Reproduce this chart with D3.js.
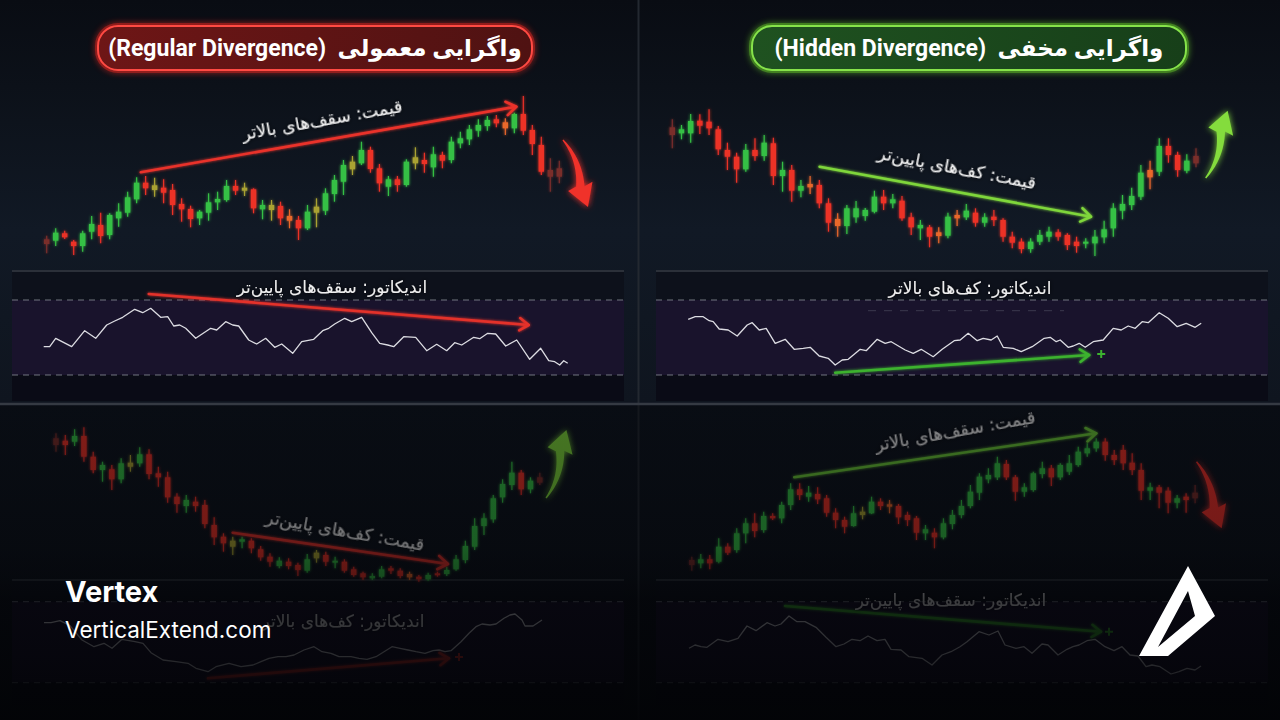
<!DOCTYPE html>
<html><head><meta charset="utf-8">
<script src="https://cdn.jsdelivr.net/npm/d3@7"></script>
<style>
html,body{margin:0;padding:0;background:#090c12;}
svg{display:block;}
</style></head>
<body><svg id="c" width="1280" height="720"></svg>
<script>
// ===================== DATA =====================
// Candle kinds: u = bullish, d = bearish, n = doji/neutral, w = weak bearish, f = faded edge candle
// ---- Top-left: Regular (bearish) divergence ----
const tlKind = ("fudduuduuu"+"udndddduuu"+"udndundwdu"+"nuuunuddud"+"unduduuuuu"+"dwudddff").split("");
const tlOpen = [20.7,19.3,26.7,18.3,14,28.3,35,25,41.7,47.3, 60.7,77.3,70,72.3,70,56,51,41.7,47.3,57.7, 60,74,69.3,70.7,50.7,50,54,44,40,31.7, 47.3,49.3,66,78.3,90.7,96.7,110,91.7,73.3,80.7, 75,96.7,100,92.7,105,100,116.7,120.7,129.3,134, 140.7,137.7,131.7,146,130,115,90,91.7];
const tlClose = [16,27.3,22.7,14,26.7,36,24,45,48.3,62.7, 77.3,71.7,74.7,67.3,55,50.7,41,48.3,57.7,61, 74,69.3,72.3,51.7,55,55,41.7,39.3,31.7,48.3, 53.3,66.7,80,95,98.3,110,91,76.7,80.7,75, 98.3,102.7,96,105.7,99.3,118.3,121.7,130.7,135,140, 136.7,131.7,146,129.3,116,88.3,83.3,83.3];
const tlHigh = [24.3,31.7,29.3,20,29.3,44,47.3,46.7,56.7,68.3, 82.7,84,82.3,80.7,76,61.7,54.3,50,66.7,68.3, 80,80,77.3,71.7,60,60,58.3,50.7,44,55, 61.7,71.7,85,100,104,118.3,113.3,96,84,84, 100.7,112.7,107.3,113.3,108.3,123.3,128.3,135,140.7,144, 145,141.7,147.3,164,135,123.3,101.7,99.3];
const tlLow = [6.7,14,21,5,8.3,20.7,16.7,20.7,33.3,43.3, 56.7,65,63.3,56.7,45,38.3,32.7,35,39.3,50, 58.3,65,64,46.7,40.7,39.3,35,31.7,20,30, 32.7,45,58.3,65,85,95,87.3,68.3,64,68.3, 73.3,90.7,87.3,83.3,91.7,96.7,111.7,115,123.3,129.3, 132.7,125,126.7,125,105,85,68.3,76.7];
const tlIndT = [0,6,12,28,41,52,63,71,79,91,99,107,117,124,130,136,142,152,167,173,182,189,195,205,213,222,231,238,249,258,270,279,285,291,301,308,318,328,336,344,350,360,372,383,393,403,411,418,430,436,444,452,462,473,486,497,505,511,516,520,524];
const tlIndV = [28.3,28.3,36.7,28.3,44.3,36.7,50,54,57.7,65.7, 62.3,66.7,57.7,58.3,49,50,46.7,36.7,46.7,45, 53.3,50,49,35,31,36.7,27.7,31,21.7,33.3, 35.7,44.3,46.7,51,56.7,53.3,57.7,42.3,31.7,30, 28.3,38.3,37.7,24.3,30.7,24.3,32.3,30,37.7,36.3, 41.7,41,29,35,15.7,26.7,14.3,13.3,10,14.3, 11.7];
const tlPriceArrow = [[10.46,87.7],[52.22,153.3]];   // [candle index, price]
const tlTrendArrow = [[57.41,120],[60.19,53]];
const tlIndArrow = [[105,81],[485,50]];               // [time, indicator]

// ---- Top-right: Hidden (bullish) divergence ----
const trKind = ("fuudddddud"+"ududuwddwu"+"uuududdudw"+"uwududdddu"+"uuddduuuuu"+"uuwudduf").split("");
const trOpen = [132.7,126.7,126.7,139.3,138.3,130.7,110,103.3,90.7,110, 104,116.7,84,90,69.3,76,75,56.7,41,34, 42.7,44,48.3,63.3,56.7,59.3,42.7,31.7,32.7,27.7, 24.3,45,42.7,47.3,37.3,43.3,40,23.3,18.3,11, 18.3,23.3,27.7,25,18.3,16.7,16.7,22.7,31.7,49.3, 55,63.3,90,88.3,114,105,89.3,104];
const trClose = [125,130.7,139,134.3,131.7,110.7,103.3,90.7,110,104, 117.3,84,90,69.3,74,72.7,56.7,37.3,34,51.7, 51.7,50,63.3,56.7,60.7,41.7,32.7,35,23.3,24, 43.3,41.7,49.3,37.3,42.7,40,23.3,17.3,11,18.3, 25,28.3,23.3,15,14,18.3,23.3,30.7,51.7,56, 64,87.3,82.7,114,105,90,99.3,96.7];
const trHigh = [140.7,135,146,145.7,150.7,134,117.3,107.3,116,121.7, 125,122.3,98.3,95,80,84,80,61.7,46.7,55, 59,52,69.3,70,66,64,47.3,40,35,32.7, 47.3,50,56,51.7,46.7,50,41.7,28.3,21.7,21.7, 30,33.3,30.7,26.7,23.3,21.7,30,39.3,56.7,65, 72.3,95,99.3,121.7,121.7,108.3,105.7,111.7];
const trLow = [111.7,120.7,117.3,126,125,105,90,77.3,88.3,99.3, 99.3,75,68.3,58.3,62.7,66,51.7,28.3,23.3,26, 37.3,39.3,46.7,50,51.7,39.3,25,20,12.7,16.7, 21.7,34,40,33.3,33.3,34,18.3,11.7,6.7,7.3, 15,18.3,19.3,10,7.3,11.7,4,16.7,23.3,40.7, 50,60,70.7,84,97.3,83.3,86.7,92.7];
const trIndT = [0,7,15,21,25,31,40,49,59,64,71,78,87,97,106,115,122,131,140,147,154,160,172,178,189,197,203,217,225,233,245,254,266,272,280,289,295,303,309,315,325,333,344,356,362,368,372,380,385,391,397,405,415,425,433,440,447,454,460,471,480,489,498,507,513];
const trIndV = [55.7,58.3,58.3,54.3,53.3,46,45,39,50,52.3, 45,46.7,31.7,35.7,25.7,26.7,27.7,19,16.7,10, 15,15.7,25.7,24.3,35.7,31.7,33.3,25,21.7,25.7, 18.3,25.7,34.3,35,41.7,34.3,36.7,35,39,27.7, 26.7,23.3,28.3,36.7,37.7,33.3,35,27.7,29,31.7, 27.7,33.3,35,46.7,45,49,46.7,53.3,52.3,62.3, 56.7,48.3,51.7,47.7,51.7];
const trPriceArrow = [[16.03,93.3],[45.57,43.3]];
const trTrendArrow = [[58.05,82],[60.44,149.3]];
const trIndArrow = [[147,2.3],[401,20]];
const trIndMark = [413,21];

// ---- Bottom-left: Regular (bullish) divergence ----
const blKind = ("fduddudunu"+"dddduddddn"+"uddduddund"+"uddduuddwd"+"uduuuuuuuu"+"duf").split("");
const blOpen = [161.7,159.3,158.3,164,143.3,130,130.7,120.7,133.3,136.7, 145.7,126.7,122.7,103.3,94,98.3,95,75,63.3,53.3, 58.3,59.3,50.7,43.3,34,38.3,35,29.3,41.7,45, 37.3,38.3,30.7,26.7,21.7,23.3,31.7,29.3,26,23.3, 20.7,26.7,26,30.7,40,53.3,74,80.7,102.7,115, 127.3,110.7,122.7];
const blClose = [155,155,164,143.3,130,135,120.7,136.7,137.3,145.7, 126,122.7,102.7,96,100,94,76,62.7,56.7,59.3, 60.7,51.7,42.7,38.3,39.3,34,30,40.7,47.3,38.3, 39.3,29.3,25,22.7,24,30.7,29.3,24,22.7,20.7, 25,25,30,40.7,54,74,81.7,101.7,116,127.3, 110.7,119.3,117.3];
const blHigh = [166.7,165,170.7,172.7,148.3,138.3,135,141.7,145,152.7, 150.7,133.3,128.3,106.7,105,103.3,100,82.7,66.7,63.3, 63.3,61.7,54,46.7,42.7,41.7,37.3,46,50,48.3, 43.3,40.7,33.3,28.3,26.7,34,34,31.7,28.3,25, 27.3,28.3,33.3,45,59.3,81.7,86.7,105,120.7,138.3, 130,122.7,127.3];
const blLow = [148.3,145,154,138.3,126.7,118.3,110,116.7,128.3,133.3, 120.7,113.3,97.3,87.3,87.3,88.3,71.7,55,48.3,45, 51.7,46.7,39.3,33.3,31.7,30.7,24,27.3,37.3,34, 31.7,27.3,23.3,20,20,21.7,26,21.7,20,18.3, 19.3,23.3,24,29.3,36.7,50,65,77.3,97.3,110, 105,106.7,115];
const blIndT = [0,7,16,26,38,50,60,68,78,91,99,107,119,132,144,152,164,172,185,197,209,217,225,234,242,250,260,270,278,287,295,307,315,323,332,340,348,356,364,372,381,389,395,401,407,417,425,432,438,446,452,460,466,471,478,481,489,498];
const blIndV = [60,60,62,57,42.7,36,39.4,34.4,43.4,41, 39.4,30,22.7,21,19.4,14.4,11,16,19.4,16, 17.7,21,24.4,26,26,27.7,32.7,36,31,29.4, 26,26,24.4,23.4,26,31,36,34.4,32.7,31, 29.4,32,32.7,31,32,41,49.4,56,58.7,57.7, 58.7,64.4,67.7,68.7,62.7,56.7,56.7,62.7];
const blPriceArrow = [[18.99,67.3],[42.13,36]];
const blTrendArrow = [[52.67,102],[54.86,170]];
const blIndArrow = [[164,4.4],[405,24.4]];
const blIndMark = [415,25.7];

// ---- Bottom-right: Hidden (bearish) divergence ----
const brKind = ("fududuudud"+"uududdddun"+"udwddduduu"+"uuuuudduuu"+"duuuuudddd"+"duddudf").split("");
const brOpen = [40,36.7,40.7,38.3,53.3,50,66.7,76.7,70,84, 81.7,95,110.7,103.3,106,101.7,87.3,80,74,85, 86.7,98.3,95.7,94,85,81.7,66.7,67.3,62.7,76, 85,94,107.3,120.7,122.7,136,122.7,108.3,110,126, 131.7,122.7,128.3,135,146.7,151.7,158.3,145,150,137.3, 130,109.3,112.7,109.3,97.3,103.3,107.3];
const brClose = [35,40.7,36.7,53.3,47.3,66.7,76.7,69,84,81.7, 95,110.7,105,107.3,100.7,87.3,80,73.3,86.7,88.3, 98.3,94,93.3,82.7,80,67.3,70.7,62.7,76.7,85, 94,108.3,123.3,125,136.7,122.7,108.3,112.7,126.7,131.7, 122.7,135,136.7,148.3,151.7,158.3,145,140,136.7,130, 109.3,112.7,107.3,97.3,101.7,100,101.7];
const brHigh = [43.3,46,45,61.7,56.7,71.7,81.7,86.7,88.3,86.7, 98.3,116.7,116.7,114,112.7,105,91.7,83.3,94,93.3, 103.3,101.7,100,96,88.3,84,75,71.7,81.7,90, 100,115,126.7,131.7,143.3,140,125,116.7,128.3,138.3, 135,136.7,145,153.3,156.7,161.7,161.7,150,155,146.7, 136.7,117.3,115,112.7,105,106.7,115];
const brLow = [29.3,31.7,30.7,36.7,45,47.3,56.7,62.7,67.3,80, 76.7,90,100,98.3,96,83.3,71.7,66.7,73.3,80.7, 86,90,86.7,76,74,60,60,51.7,60.7,70.7, 81.7,91.7,100,116.7,120,120,99.3,103.3,108.3,121.7, 114,120,125,133.3,143.3,148.3,139.3,135,130,125, 100,100,91.7,86.7,91.7,87.3,96.7];
const brIndT = [0,6,12,18,29,39,49,58,67,78,86,92,100,108,116,127,137,147,155,163,171,179,188,196,202,212,220,233,243,253,262,271,278,290,300,309,316,327,335,343,353,359,369,378,384,390,398,406,416,425,433,441,449,457,463,471,482,490,498,506,512];
const brIndV = [34.4,37.7,36,35.4,43.4,41,44.4,56.7,52,60, 56.7,58.7,66.7,61,61,55.4,45.4,36,38.7,43.4, 42,46.7,42,43.4,33.4,32.7,26,24.4,17.7,27.7, 31,36,41,51,47.7,51.7,37.7,34.4,36,29.4, 38.7,37.7,27.7,33.4,36,37.7,42,43.4,36,32, 36,27.7,26.7,16,17.7,16,8.7,11,14.4,12.7, 16.7];
const brPriceArrow = [[11.4,122.7],[45.0,166.7]];
const brTrendArrow = [[56.16,138.3],[58.95,71.7]];
const brIndArrow = [[96,76.7],[412,51]];
const brIndMark = [420,51];

// ---- Texts ----
const titles = ["واگرایی معمولی  (Regular Divergence)", "واگرایی مخفی  (Hidden Divergence)"];
const priceLabels = ["قیمت: سقف\u200cهای بالاتر", "قیمت: کف\u200cهای پایین\u200cتر", "قیمت: کف\u200cهای پایین\u200cتر", "قیمت: سقف\u200cهای بالاتر"];
const indLabels = ["اندیکاتور: سقف\u200cهای پایین\u200cتر", "اندیکاتور: کف\u200cهای بالاتر", "اندیکاتور: کف\u200cهای بالاتر", "اندیکاتور: سقف\u200cهای پایین\u200cتر"];
const brandName = "Vertex";
const brandSite = "VerticalExtend.com";

// sanity check
[[tlKind,tlOpen,tlClose,tlHigh,tlLow],[trKind,trOpen,trClose,trHigh,trLow],[blKind,blOpen,blClose,blHigh,blLow],[brKind,brOpen,brClose,brHigh,brLow]].forEach((a,j)=>{
  const n=a[0].length; a.forEach(x=>{ if(x.length!==n) throw new Error("candle length mismatch panel "+j+": "+x.length+" vs "+n); });
});
[[tlIndT,tlIndV],[trIndT,trIndV],[blIndT,blIndV],[brIndT,brIndV]].forEach((a,j)=>{ if(a[0].length!==a[1].length) throw new Error("ind mismatch "+j+": "+a[0].length+" vs "+a[1].length); });

// ===================== DRAW =====================
const W=1280, H=720;
const svg = d3.select("#c");
const defs = svg.append("defs");

const bg = defs.append("linearGradient").attr("id","bg").attr("x1",0).attr("y1",0).attr("x2",0).attr("y2",1);
[[0,"#090c13"],[0.12,"#0c1119"],[0.32,"#111925"],[0.56,"#0f151f"],[1,"#0b0f16"]].forEach(s=>bg.append("stop").attr("offset",s[0]).attr("stop-color",s[1]));

const dim = defs.append("linearGradient").attr("id","dim").attr("x1",0).attr("y1",0).attr("x2",0).attr("y2",1);
[[0,0.45],[0.45,0.52],[0.55,0.62],[0.62,0.75],[0.8,0.82],[1,0.94]].forEach(s=>dim.append("stop").attr("offset",s[0]).attr("stop-color","#020306").attr("stop-opacity",s[1]));

function glowFilter(id, sd){
  const f = defs.append("filter").attr("id",id).attr("x","-50%").attr("y","-50%").attr("width","200%").attr("height","200%");
  f.append("feGaussianBlur").attr("in","SourceGraphic").attr("stdDeviation",sd).attr("result","b");
  const m=f.append("feMerge"); m.append("feMergeNode").attr("in","b"); m.append("feMergeNode").attr("in","SourceGraphic");
}
glowFilter("glow",3); glowFilter("glowS",1.6);
const ts = defs.append("filter").attr("id","tshadow").attr("x","-20%").attr("y","-50%").attr("width","140%").attr("height","200%");
ts.append("feDropShadow").attr("dx",0).attr("dy",0).attr("stdDeviation",2.2).attr("flood-color","#000").attr("flood-opacity",0.9);

const gTL = defs.append("linearGradient").attr("id","boxR").attr("x1",0).attr("x2",1);
gTL.append("stop").attr("offset",0).attr("stop-color","#6e1616"); gTL.append("stop").attr("offset",1).attr("stop-color","#4f1212");
const gTR = defs.append("linearGradient").attr("id","boxG").attr("x1",0).attr("x2",1);
gTR.append("stop").attr("offset",0).attr("stop-color","#1f5220"); gTR.append("stop").attr("offset",1).attr("stop-color","#173f19");

svg.append("rect").attr("width",W).attr("height",H).attr("fill","url(#bg)");

const kindColor = d3.scaleOrdinal().domain(["u","d","n","w","f"]).range(["#36c044","#ec3128","#a9a233","#e9672c","#7a2d2b"]);

const panels = [
  {K:tlKind,O:tlOpen,C:tlClose,Hh:tlHigh,L:tlLow, xr:[46.7,559.3], yr:[260,90], pd:[0,170],
   indT:tlIndT, indV:tlIndV, ix0:43.7, box:[12,624], top:271, d1:300, d2:375, bot:401, vd:[0,75],
   pa:tlPriceArrow, ta:tlTrendArrow, ia:tlIndArrow, mark:null, paCol:"#ea332b", taCol:"#f0302a", iaCol:"#e3302a", bend:-9,
   pl:priceLabels[0], plPos:[322,120], plRot:-10, il:indLabels[0], ilPos:[332,287]},
  {K:trKind,O:trOpen,C:trClose,Hh:trHigh,L:trLow, xr:[672.3,1196], yr:[260,90], pd:[0,170],
   indT:trIndT, indV:trIndV, ix0:688.2, box:[656,1268], top:271, d1:300, d2:375, bot:401, vd:[0,75],
   pa:trPriceArrow, ta:trTrendArrow, ia:trIndArrow, mark:trIndMark, paCol:"#7fd63b", taCol:"#84dc3c", iaCol:"#3cb22f", bend:9,
   pl:priceLabels[1], plPos:[957,168], plRot:11, il:indLabels[1], ilPos:[970,288]},
  {K:blKind,O:blOpen,C:blClose,Hh:blHigh,L:blLow, xr:[56,539.8], yr:[600,400], pd:[0,200],
   indT:blIndT, indV:blIndV, ix0:44, box:[12,624], top:580, d1:601.7, d2:682.7, bot:705, vd:[0,81],
   pa:blPriceArrow, ta:blTrendArrow, ia:blIndArrow, mark:blIndMark, paCol:"#e2322b", taCol:"#7fd63b", iaCol:"#d8302a", bend:9,
   pl:priceLabels[2], plPos:[345,531], plRot:10, il:indLabels[2], ilPos:[343,621]},
  {K:brKind,O:brOpen,C:brClose,Hh:brHigh,L:brLow, xr:[691.8,1195.1], yr:[600,400], pd:[0,200],
   indT:brIndT, indV:brIndV, ix0:689, box:[656,1268], top:580, d1:601.7, d2:682.7, bot:705, vd:[0,81],
   pa:brPriceArrow, ta:brTrendArrow, ia:brIndArrow, mark:brIndMark, paCol:"#6cc838", taCol:"#f0302a", iaCol:"#3cb22f", bend:-8,
   pl:priceLabels[3], plPos:[955,431], plRot:-10, il:indLabels[3], ilPos:[951,600]}
];

function openArrow(g, a, b, color, w, s){
  g.append("line").attr("x1",a[0]).attr("y1",a[1]).attr("x2",b[0]).attr("y2",b[1])
    .attr("stroke",color).attr("stroke-width",w).attr("stroke-linecap","round");
  const ang=Math.atan2(b[1]-a[1], b[0]-a[0]), sp=0.6;
  const p1=[b[0]-s*Math.cos(ang-sp), b[1]-s*Math.sin(ang-sp)];
  const p2=[b[0]-s*Math.cos(ang+sp), b[1]-s*Math.sin(ang+sp)];
  g.append("path").attr("d",`M${p1[0]},${p1[1]}L${b[0]},${b[1]}L${p2[0]},${p2[1]}`)
    .attr("fill","none").attr("stroke",color).attr("stroke-width",w).attr("stroke-linecap","round").attr("stroke-linejoin","round");
}

function curvedArrow(g, p0, p1, color, bend){
  const dx=p1[0]-p0[0], dy=p1[1]-p0[1], Ln=Math.hypot(dx,dy);
  const ux=dx/Ln, uy=dy/Ln, nx=-uy, ny=ux;
  const hl=22, hw=26;
  const pb=[p1[0]-ux*hl, p1[1]-uy*hl];
  const c=[(p0[0]+pb[0])/2+nx*bend, (p0[1]+pb[1])/2+ny*bend];
  const bez=t=>[(1-t)*(1-t)*p0[0]+2*(1-t)*t*c[0]+t*t*pb[0], (1-t)*(1-t)*p0[1]+2*(1-t)*t*c[1]+t*t*pb[1]];
  const der=t=>[2*(1-t)*(c[0]-p0[0])+2*t*(pb[0]-c[0]), 2*(1-t)*(c[1]-p0[1])+2*t*(pb[1]-c[1])];
  const left=[], right=[];
  for(let i=0;i<=24;i++){
    const t=i/24, P=bez(t), D=der(t), dl=Math.hypot(D[0],D[1]);
    const qx=-D[1]/dl, qy=D[0]/dl, w=(1.4+7*t)/2;
    left.push([P[0]+qx*w,P[1]+qy*w]); right.push([P[0]-qx*w,P[1]-qy*w]);
  }
  const h1=[pb[0]+nx*hw/2, pb[1]+ny*hw/2], h2=[pb[0]-nx*hw/2, pb[1]-ny*hw/2];
  const pts=left.concat([h1,p1,h2]).concat(right.reverse());
  g.append("path").attr("d","M"+pts.map(p=>p[0].toFixed(2)+","+p[1].toFixed(2)).join("L")+"Z")
    .attr("fill",color).attr("filter","url(#glow)");
}

function persian(g, txt, pos, rot, size, color, weight){
  g.append("text").attr("transform",`translate(${pos[0]},${pos[1]}) rotate(${rot})`)
    .attr("text-anchor","middle").attr("dy","0.35em").attr("direction","rtl")
    .style("direction","rtl").style("unicode-bidi","embed")
    .attr("font-family","'DejaVu Sans', sans-serif").attr("font-size",size).attr("font-weight",weight||"normal")
    .attr("fill",color).attr("filter","url(#tshadow)").text(txt);
}

function drawPanel(p){
  const g = svg.append("g");
  // indicator panel background
  g.append("rect").attr("x",p.box[0]).attr("y",p.top).attr("width",p.box[1]-p.box[0]).attr("height",p.d1-p.top).attr("fill","#0d111b");
  g.append("rect").attr("x",p.box[0]).attr("y",p.d1).attr("width",p.box[1]-p.box[0]).attr("height",p.d2-p.d1).attr("fill","#19132c");
  g.append("rect").attr("x",p.box[0]).attr("y",p.d2).attr("width",p.box[1]-p.box[0]).attr("height",p.bot-p.d2).attr("fill","#0a0b16");
  g.append("line").attr("x1",p.box[0]).attr("x2",p.box[1]).attr("y1",p.top).attr("y2",p.top).attr("stroke","#2b3039").attr("stroke-width",2);
  [p.d1,p.d2].forEach(yv=>g.append("line").attr("x1",p.box[0]).attr("x2",p.box[1]).attr("y1",yv).attr("y2",yv)
    .attr("stroke","#9aa0aa").attr("stroke-opacity",0.7).attr("stroke-width",1).attr("stroke-dasharray","6,5"));

  // indicator line
  const tMax = p.indT[p.indT.length-1];
  const ix = d3.scaleLinear().domain([0,tMax]).range([p.ix0, p.ix0+tMax]);
  const iy = d3.scaleLinear().domain(p.vd).range([p.d2,p.d1]);
  const line = d3.line().x((d,i)=>ix(p.indT[i])).y(d=>iy(d));
  g.append("path").attr("d",line(p.indV)).attr("fill","none").attr("stroke","#dcdce2").attr("stroke-width",1.3).attr("stroke-linejoin","round");

  // candles
  const n = p.O.length;
  const x = d3.scaleLinear().domain([0,n-1]).range(p.xr);
  const y = d3.scaleLinear().domain(p.pd).range(p.yr);
  const data = d3.range(n).map(i=>({i,o:p.O[i],c:p.C[i],h:p.Hh[i],l:p.L[i],k:p.K[i]}));
  const cg = g.append("g").attr("filter","url(#glowS)");
  cg.selectAll("line.w").data(data).join("line").attr("class","w")
    .attr("x1",d=>x(d.i)).attr("x2",d=>x(d.i)).attr("y1",d=>y(d.h)).attr("y2",d=>y(d.l))
    .attr("stroke",d=>kindColor(d.k)).attr("stroke-width",1.2);
  cg.selectAll("rect.b").data(data).join("rect").attr("class","b")
    .attr("x",d=>x(d.i)-2.7).attr("width",5.4)
    .attr("y",d=>y(Math.max(d.o,d.c))).attr("height",d=>Math.max(2,Math.abs(y(d.o)-y(d.c))))
    .attr("fill",d=>kindColor(d.k));

  // price divergence arrow
  openArrow(g.append("g").attr("filter","url(#glowS)"), [x(p.pa[0][0]),y(p.pa[0][1])], [x(p.pa[1][0]),y(p.pa[1][1])], p.paCol, 2.6, 12);
  // trend arrow
  curvedArrow(g, [x(p.ta[0][0]),y(p.ta[0][1])], [x(p.ta[1][0]),y(p.ta[1][1])], p.taCol, p.bend);
  // indicator arrow
  openArrow(g.append("g").attr("filter","url(#glowS)"), [ix(p.ia[0][0]),iy(p.ia[0][1])], [ix(p.ia[1][0]),iy(p.ia[1][1])], p.iaCol, 2.6, 11);
  if(p.mark){
    const mx=ix(p.mark[0]), my=iy(p.mark[1]);
    g.append("path").attr("d",`M${mx-4},${my}L${mx+4},${my}M${mx},${my-4}L${mx},${my+4}`).attr("stroke",p.iaCol).attr("stroke-width",2);
  }
  persian(g, p.pl, p.plPos, p.plRot, 17.5, "#f2f2f2");
  persian(g, p.il, p.ilPos, 0, 17, "#eeeeee");
  return g;
}

panels.forEach(drawPanel);
// faint extra dashed line in top-right panel
svg.append("line").attr("x1",868).attr("x2",1064).attr("y1",310.7).attr("y2",310.7)
  .attr("stroke","#8d929c").attr("stroke-opacity",0.3).attr("stroke-dasharray","8,8");

// vertical divider
svg.append("line").attr("x1",638.5).attr("x2",638.5).attr("y1",0).attr("y2",H).attr("stroke","#232830").attr("stroke-width",2);

// titles
function titleBox(cx, txt, fill, stroke, glowCol){
  const w=434, h=44, x0=cx-w/2, y0=26;
  svg.append("rect").attr("x",x0).attr("y",y0).attr("width",w).attr("height",h).attr("rx",20)
    .attr("fill","none").attr("stroke",glowCol).attr("stroke-width",6).attr("opacity",0.55).attr("filter","url(#glow)");
  svg.append("rect").attr("x",x0).attr("y",y0).attr("width",w).attr("height",h).attr("rx",20)
    .attr("fill",fill).attr("stroke",stroke).attr("stroke-width",2);
  svg.append("text").attr("x",cx).attr("y",y0+h/2).attr("dy","0.36em").attr("text-anchor","middle")
    .attr("direction","rtl").style("direction","rtl").style("unicode-bidi","embed").style("white-space","pre")
    .attr("font-family","Roboto, 'DejaVu Sans', sans-serif").attr("font-weight","bold").attr("font-size",23)
    .attr("fill","#ffffff").text(txt);
}
titleBox(315, titles[0], "url(#boxR)", "#ff4a43", "#ff2a20");
titleBox(969, titles[1], "url(#boxG)", "#86e34a", "#6fdc2c");

// bottom-half dimming
svg.append("rect").attr("x",0).attr("y",404).attr("width",W).attr("height",H-404).attr("fill","url(#dim)");
svg.append("line").attr("x1",0).attr("x2",W).attr("y1",404).attr("y2",404).attr("stroke","#353a43").attr("stroke-width",2.5);

// brand
svg.append("text").attr("x",65).attr("y",602).attr("font-family","Inter, Roboto, sans-serif").attr("font-weight","bold")
  .attr("font-size",29).attr("fill","#ffffff").text(brandName);
svg.append("text").attr("x",65).attr("y",638).attr("font-family","Inter, Roboto, sans-serif")
  .attr("font-size",22.5).attr("fill","#ffffff").text(brandSite);
svg.append("path").attr("d","M1188,566 L1215,616 L1168,656 L1139,656 Z M1188,591 L1195,616 L1158,647 Z")
  .attr("fill","#ffffff").attr("fill-rule","evenodd");
</script>
</body></html>
